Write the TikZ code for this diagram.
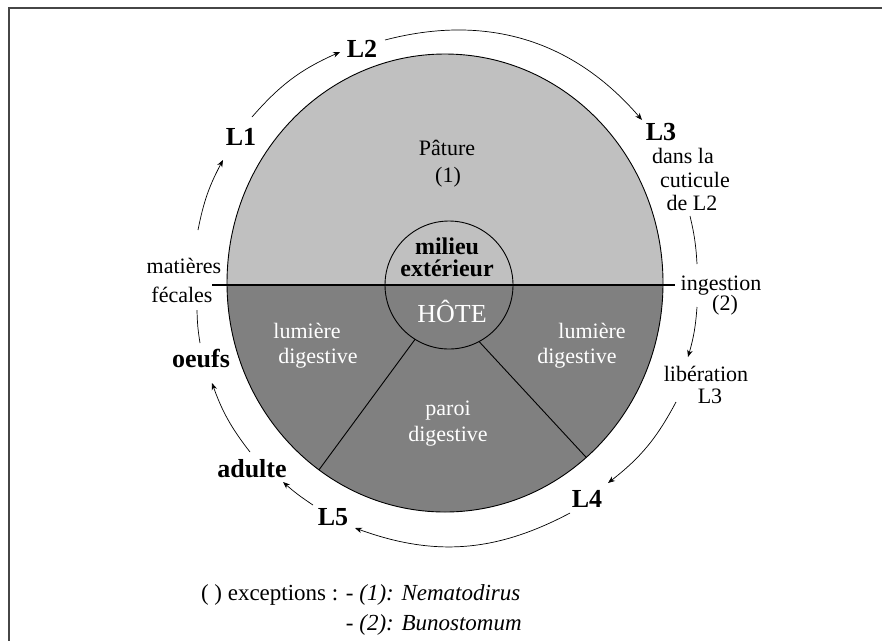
\documentclass[tikz,border=0pt]{standalone}
\usepackage{fontspec}
\setmainfont{Liberation Serif}
\usetikzlibrary{arrows.meta,shapes.geometric}
\definecolor{lightg}{RGB}{192,192,192}
\definecolor{darkg}{RGB}{128,128,128}
\definecolor{framec}{RGB}{70,70,70}
\begin{document}
\begin{tikzpicture}[x=1pt,y=-1pt,
  every node/.style={inner sep=0pt, outer sep=0pt},
  txt/.style={font=\fontsize{22}{24}\selectfont, anchor=base},
  lab/.style={font=\fontsize{26}{28}\selectfont\bfseries, anchor=base},
  wtxt/.style={txt, text=white},
  cyc/.style={line width=0.7pt, -{Stealth[length=7pt,width=5.5pt]}},
  cycn/.style={line width=0.7pt},
  outl/.style={line width=0.9pt},
]
\useasboundingbox (0,0) rectangle (882,641);
% frame
\coordinate (fr1) at (882,8);
\coordinate (fr2) at (9,8);
\coordinate (fr3) at (9,641);
\draw[framec, line width=2.5pt] (fr1) -- (fr2) -- (fr3);

% filled halves
\begin{scope}
\clip (0,0) rectangle (882,285);
\fill[lightg] (445,283) ellipse [x radius=218, y radius=229];
\end{scope}
\begin{scope}
\clip (0,285) rectangle (882,641);
\fill[darkg] (445,283) ellipse [x radius=218, y radius=229];
\end{scope}
\node[draw, outl, ellipse, minimum width=436pt, minimum height=458pt] (main) at (445,283) {};
\node[draw, outl, circle, minimum size=128pt] (inner) at (449,285) {};
\draw[outl] (inner.-122) -- (main.-124);
\draw[outl] (inner.-62) -- (main.-51.5);
\coordinate (hl) at (212,285);
\coordinate (hr) at (675,285);
\draw[line width=2.6pt] (hl) -- (hr);

% inner texts
\node[txt] (pat) at (447,155) {Pâture};
\node[txt] (one) at (448,182) {(1)};
\node[font=\fontsize{24}{22}\selectfont\bfseries, align=center, anchor=north] (mil) at (447,238) {milieu\\extérieur};
\node[font=\fontsize{26}{28}\selectfont, anchor=base, text=white] (hote) at (452,322) {HÔTE};
\node[wtxt] (lumL) at (307,338) {lumière};
\node[wtxt] (digL) at (318,363) {digestive};
\node[wtxt] (lumR) at (592,338) {lumière};
\node[wtxt] (digR) at (577,363) {digestive};
\node[wtxt] (par) at (448,415) {paroi};
\node[wtxt] (digC) at (448,441) {digestive};

% cycle labels
\node[lab] (L1) at (241,145) {L1};
\node[lab] (L2) at (362,57) {L2};
\node[lab] (L3) at (661,140) {L3};
\node[txt] (dans) at (683,163) {dans la};
\node[txt] (cut) at (695,187) {cuticule};
\node[txt] (deL2) at (692,210) {de L2};
\node[txt] (ing) at (721,290) {ingestion};
\node[txt] (two) at (725,310) {(2)};
\node[txt] (lib) at (706,381) {libération};
\node[txt] (L3b) at (710,403) {L3};
\node[lab] (L4) at (587,507) {L4};
\node[lab] (L5) at (333,525) {L5};
\node[lab] (adulte) at (252,477) {adulte};
\node[lab] (oeufs) at (201,367) {oeufs};
\node[txt] (mat) at (184,273) {matières};
\node[txt] (fec) at (182,302) {fécales};

% cycle connectors
\coordinate (a1) at (252,117); \coordinate (b1) at (340,52);
\coordinate (a2) at (385,40);  \coordinate (b2) at (642,120);
\coordinate (a3) at (690,216); \coordinate (b3) at (697,264);
\coordinate (a4) at (697,307); \coordinate (b4) at (688,357);
\coordinate (a5) at (676,402); \coordinate (b5) at (608,483);
\coordinate (a6) at (570,513); \coordinate (b6) at (355,528);
\coordinate (a7) at (313,505); \coordinate (b7) at (283,482);
\coordinate (a8) at (250,452); \coordinate (b8) at (212,383);
\coordinate (a9) at (200,343); \coordinate (b9) at (197,310);
\coordinate (a10) at (198,230); \coordinate (b10) at (223,160);
\draw[cyc] (a1) to[bend left=12.5] (b1);
\draw[cyc] (a2) to[bend left=32] (b2);
\draw[cycn] (a3) to[bend left=5] (b3);
\draw[cyc] (a4) to[bend left=6] (b4);
\draw[cyc] (a5) to[bend left=12] (b5);
\draw[cyc] (a6) to[bend left=24] (b6);
\draw[cyc] (a7) to[bend left=4] (b7);
\draw[cyc] (a8) to[bend left=9] (b8);
\draw[cycn] (a9) to[bend left=4] (b9);
\draw[cyc] (a10) to[bend left=8.5] (b10);

% legend
\node[anchor=base west, font=\fontsize{23}{25}\selectfont] (leg1) at (201,600) {( ) exceptions : - \textit{(1): Nematodirus}};
\node[anchor=base west, font=\fontsize{23}{25}\selectfont] (leg2) at (201,630) {\phantom{( ) exceptions : }- \textit{(2): Bunostomum}};
\end{tikzpicture}
\end{document}
